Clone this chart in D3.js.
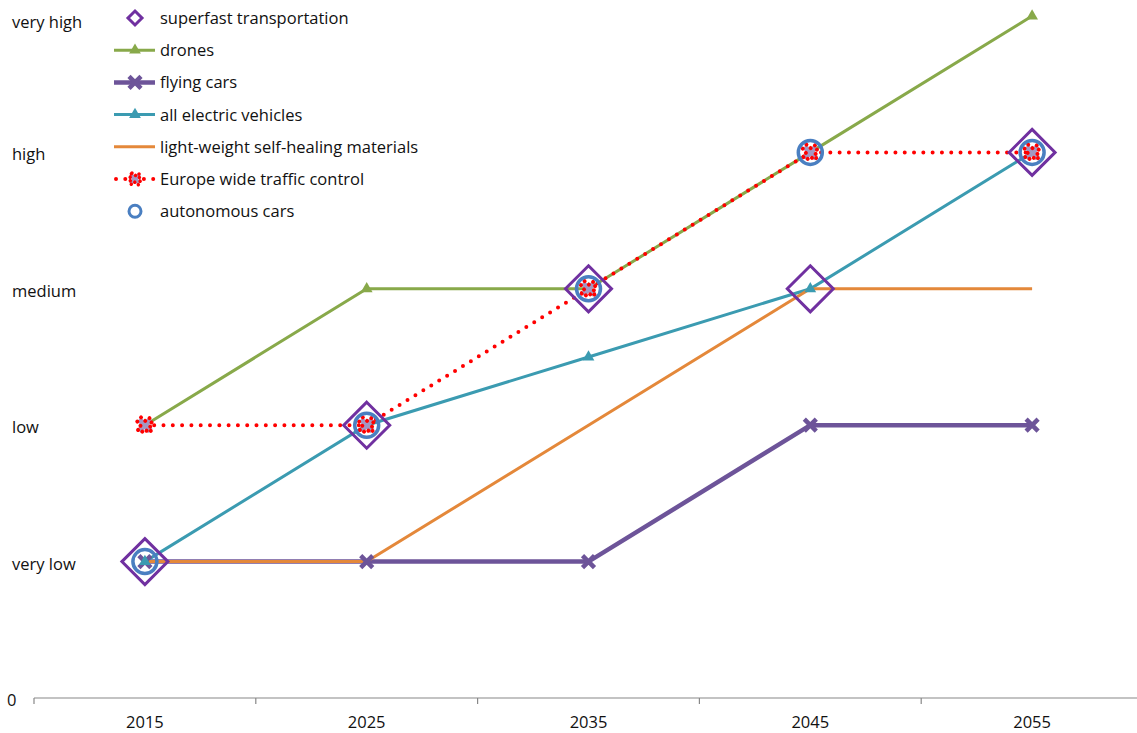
<!DOCTYPE html>
<meta charset="utf-8">
<style>
body { margin: 0; background: #fff; }
text {
  font-family: "Open Sans", "Liberation Sans", sans-serif;
  font-size: 16.5px;
  fill: #111;
}
.axis path, .axis line { stroke: #888; stroke-width: 1.2; }
</style>
<svg width="1137" height="733"></svg>
<script src="https://cdn.jsdelivr.net/npm/d3@7/dist/d3.min.js"></script>
<script>

// data
var years = ["2015", "2025", "2035", "2045", "2055"];
var levelLabels = ["0", "very low", "low", "medium", "high", "very high"];

var superfast  = [1, 2, 3, 3, 4];
var drones     = [2, 3, 3, 4, 5];
var flyingCars = [1, 1, 1, 2, 2];
var electric   = [1, 2, 2.5, 3, 4];
var materials  = [1, 1, 2, 3, 3];
var europe     = [2, 2, 3, 4, 4];
var autonomous = [1, 2, 3, 4, 4];

var series = [
  {name: "superfast transportation", values: superfast, line: false, marker: "diamond", color: "#7030a0"},
  {name: "drones", values: drones, line: true, marker: "triangle", color: "#88a94a", width: 3},
  {name: "flying cars", values: flyingCars, line: true, marker: "x", color: "#6d5499", width: 4.5},
  {name: "all electric vehicles", values: electric, line: true, marker: "triangle", color: "#3b9bb1", width: 3},
  {name: "light-weight self-healing materials", values: materials, line: true, marker: null, color: "#e4883a", width: 3},
  {name: "Europe wide traffic control", values: europe, line: true, dotted: true, marker: "star", color: "#ff0000", width: 4},
  {name: "autonomous cars", values: autonomous, line: false, marker: "circle", color: "#4a7fc1"}
];

var svg = d3.select("svg");

var x = d3.scaleBand().domain(years).range([34, 1143]);
var y = d3.scaleLinear().domain([0, 5]).range([698, 16]);

// x axis
var xAxis = svg.append("g")
    .attr("class", "axis")
    .attr("transform", "translate(0," + y(0) + ")");
xAxis.append("line").attr("x1", 34).attr("x2", 1143);
var edges = years.map(function(d) { return x(d); }).concat([x.range()[1]]);
xAxis.selectAll(".tk").data(edges).enter().append("line")
    .attr("x1", function(d) { return d; }).attr("x2", function(d) { return d; })
    .attr("y1", 0).attr("y2", 6);
xAxis.selectAll("text").data(years).enter().append("text")
    .attr("x", function(d) { return x(d) + x.bandwidth() / 2; })
    .attr("y", 30)
    .attr("text-anchor", "middle")
    .text(function(d) { return d; });

// y labels
svg.append("g").selectAll("text").data(levelLabels).enter().append("text")
    .attr("x", function(d, i) { return i === 0 ? 7 : 12; })
    .attr("y", function(d, i) { return Math.max(y(i) + 8, 28); })
    .text(function(d) { return d; });

var cx = function(i) { return x(years[i]) + x.bandwidth() / 2; };

var line = d3.line()
    .x(function(d, i) { return cx(i); })
    .y(function(d) { return y(d); });

function drawMarker(g, type, color, px, py, small) {
  if (type === "diamond") {
    var r = small ? 7 : 23;
    g.append("path")
        .attr("d", "M" + px + "," + (py - r) + "L" + (px + r) + "," + py + "L" + px + "," + (py + r) + "L" + (px - r) + "," + py + "Z")
        .attr("fill", "none").attr("stroke", color).attr("stroke-width", 3);
  } else if (type === "triangle") {
    g.append("path")
        .attr("transform", "translate(" + px + "," + py + ")")
        .attr("d", d3.symbol(d3.symbolTriangle, 60)())
        .attr("fill", color);
  } else if (type === "x") {
    var a = 6;
    g.append("path")
        .attr("d", "M" + (px - a) + "," + (py - a) + "L" + (px + a) + "," + (py + a) + "M" + (px + a) + "," + (py - a) + "L" + (px - a) + "," + (py + a))
        .attr("stroke", color).attr("stroke-width", 4.5).attr("fill", "none");
  } else if (type === "star") {
    g.append("path")
        .attr("transform", "translate(" + px + "," + py + ") rotate(45)")
        .attr("d", d3.symbol(d3.symbolCross, small ? 90 : 150)())
        .attr("fill", "#a497c2")
        .attr("stroke", color).attr("stroke-width", small ? 3.5 : 4)
        .attr("stroke-linecap", "round")
        .attr("stroke-dasharray", small ? "0 5" : "0 6");
  } else if (type === "circle") {
    g.append("circle")
        .attr("cx", px).attr("cy", py).attr("r", small ? 6 : 12)
        .attr("fill", "none").attr("stroke", color).attr("stroke-width", small ? 3 : 3.5);
  }
}

// lines
var plot = svg.append("g");
series.forEach(function(s) {
  if (!s.line) return;
  var p = plot.append("path")
      .attr("d", line(s.values))
      .attr("fill", "none")
      .attr("stroke", s.color)
      .attr("stroke-width", s.width);
  if (s.dotted) p.attr("stroke-dasharray", "0 9.3").attr("stroke-linecap", "round");
});

// markers
var marks = svg.append("g");
series.forEach(function(s) {
  if (!s.marker) return;
  s.values.forEach(function(v, i) {
    drawMarker(marks, s.marker, s.color, cx(i), y(v), false);
  });
});

// legend
var legend = svg.append("g");
series.forEach(function(s, i) {
  var ly = 18 + i * 32.2;
  if (s.line) {
    var lp = legend.append("line")
        .attr("x1", 114).attr("x2", 155).attr("y1", ly).attr("y2", ly)
        .attr("stroke", s.color).attr("stroke-width", s.width);
    if (s.dotted) lp.attr("stroke-dasharray", "0 9.3").attr("stroke-linecap", "round").attr("x1", 116);
  }
  if (s.marker) drawMarker(legend, s.marker, s.color, 135, ly, true);
  legend.append("text")
      .attr("x", 160).attr("y", ly + 6)
      .text(s.name);
});

</script>
